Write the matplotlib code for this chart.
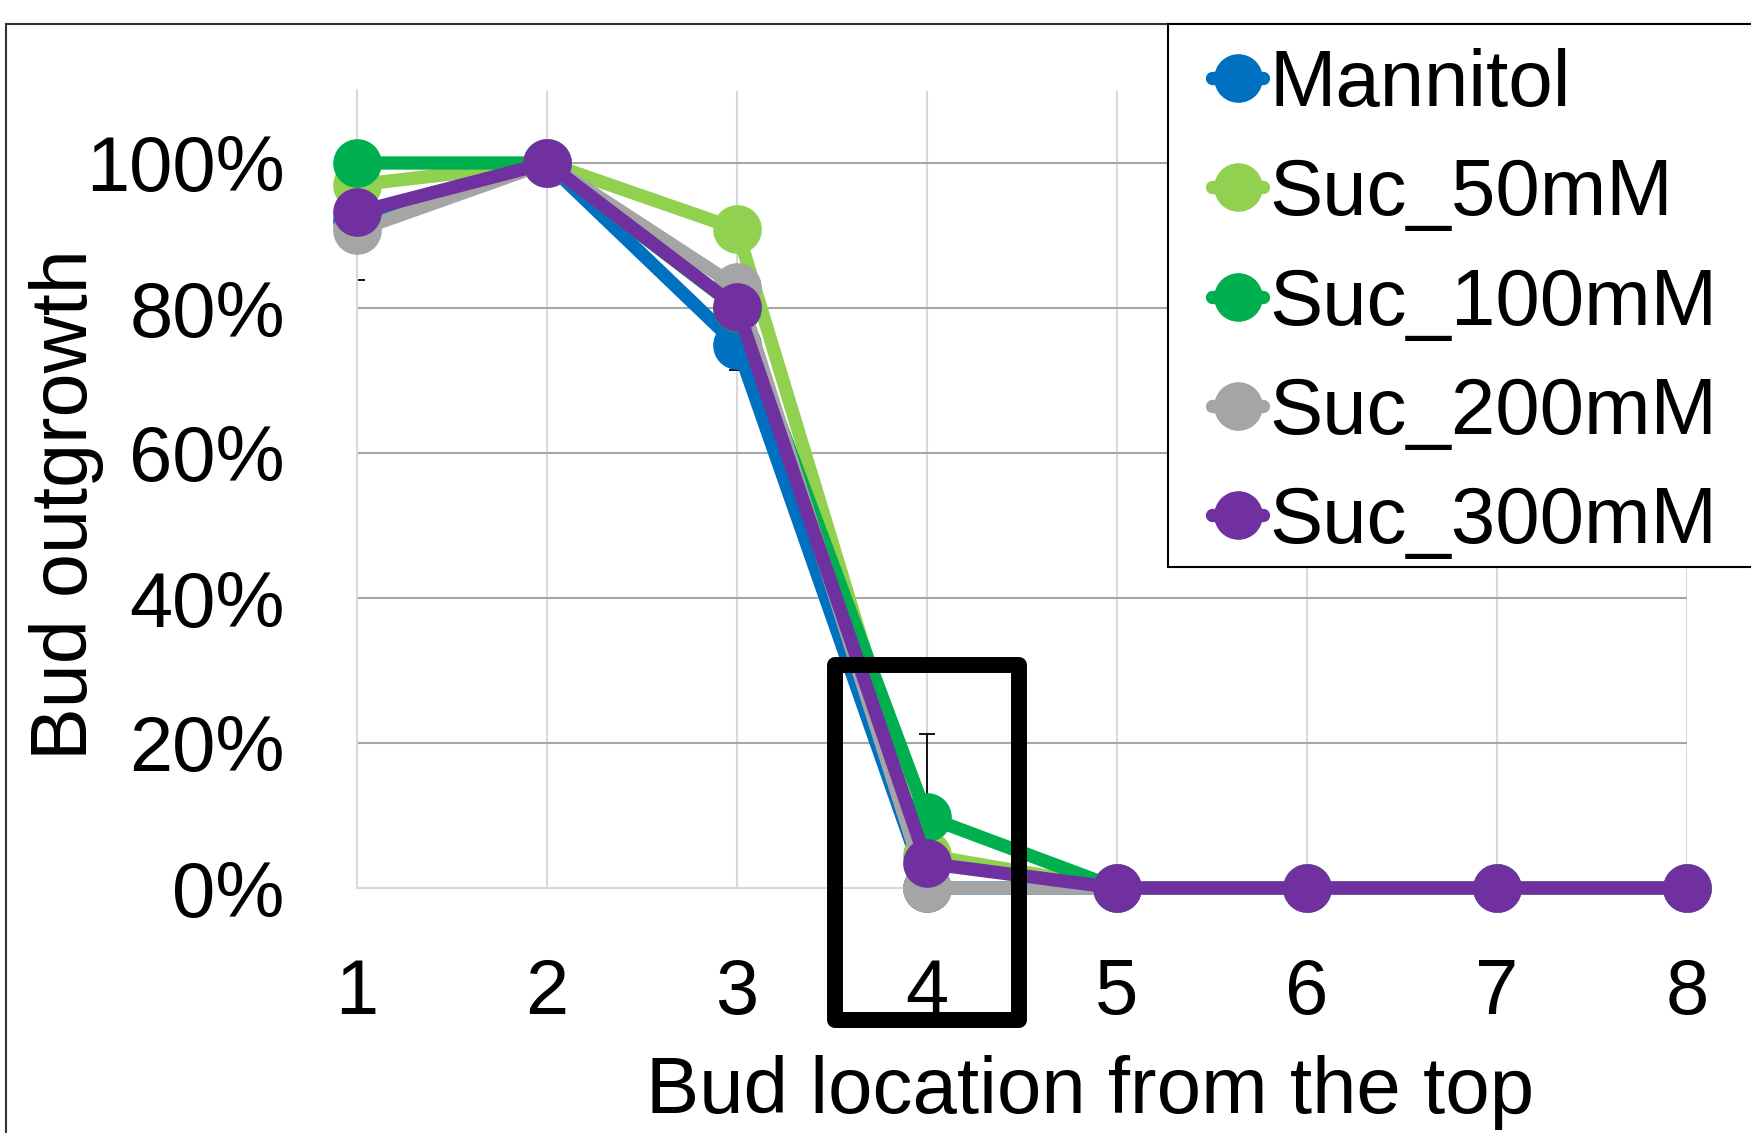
import numpy as np
import matplotlib
matplotlib.use("Agg")
import matplotlib.pyplot as plt
from matplotlib.lines import Line2D
from matplotlib.patches import Rectangle
from matplotlib.ticker import PercentFormatter

plt.rcParams['font.family'] = ['Liberation Sans', 'DejaVu Sans']

# bud position counted from the top of the shoot
bud_location = [1, 2, 3, 4, 5, 6, 7, 8]

# share of buds growing out, per treatment
mannitol = [0.92, 1.00, 0.749, 0.0, 0.0, 0.0, 0.0, 0.0]
suc_50 = [0.970, 1.00, 0.909, 0.045, 0.0, 0.0, 0.0, 0.0]
suc_100 = [1.00, 1.00, 0.80, 0.098, 0.0, 0.0, 0.0, 0.0]
suc_200 = [0.907, 1.00, 0.829, 0.0, 0.0, 0.0, 0.0, 0.0]
suc_300 = [0.932, 1.00, 0.801, 0.034, 0.0, 0.0, 0.0, 0.0]

# error bars (only the ones that show up in the figure)
mannitol_err = [0, 0, 0.035, 0, 0, 0, 0, 0]
suc_100_err = [0, 0, 0, 0.114, 0, 0, 0, 0]
suc_200_err = [0.068, 0, 0, 0, 0, 0, 0, 0]

series = [
    ("Mannitol", mannitol, mannitol_err, "#0070C0"),
    ("Suc_50mM", suc_50, None, "#92D050"),
    ("Suc_100mM", suc_100, suc_100_err, "#00B050"),
    ("Suc_200mM", suc_200, suc_200_err, "#A5A5A5"),
    ("Suc_300mM", suc_300, None, "#7030A0"),
]

# highlighted bud (black box), in data units
box_x = (3.516, 4.484)
box_y = (-0.182, 0.3076)

W, H = 1751, 1133
fig = plt.figure(figsize=(W / 100, H / 100), dpi=100)
ax = fig.add_axes([357 / W, 245 / H, 1330 / W, 797.5 / H])

FS = 56
for i, (name, vals, err, col) in enumerate(series):
    if err is not None:
        ax.errorbar(bud_location, vals, yerr=err, fmt='none', ecolor='black',
                    elinewidth=1.3, capsize=6, capthick=1.3, zorder=2)
    ax.plot(bud_location, vals, color=col, lw=9.6, marker='o', ms=34,
            label=name, zorder=2.5 + i, solid_joinstyle='round',
            solid_capstyle='round', clip_on=False)

ax.set_xlim(1, 8)
ax.set_ylim(0, 1.1)
ax.set_xticks(bud_location)
ax.set_yticks(np.arange(0, 1.01, 0.2))
ax.yaxis.set_major_formatter(PercentFormatter(1.0, decimals=0))
ax.tick_params(length=0, labelsize=FS)
ax.tick_params(axis='y', pad=52)
ax.tick_params(axis='x', pad=50)

ax.grid(axis='y', color='#A6A6A6', lw=1.5)
ax.grid(axis='x', color='#D9D9D9', lw=1.5)
ax.set_axisbelow(True)
for s in ['top', 'right']:
    ax.spines[s].set_visible(False)
for s in ['left', 'bottom']:
    ax.spines[s].set_color('#D9D9D9')
    ax.spines[s].set_linewidth(1.5)

ax.add_patch(Rectangle((box_x[0], box_y[0]), box_x[1] - box_x[0], box_y[1] - box_y[0],
                       fill=False, ec='black', lw=11.5, joinstyle='round',
                       clip_on=False, zorder=20))

fig.text(67 / W, 1 - 505 / H, "Bud outgrowth", rotation=90, fontsize=57,
         ha='center', va='center')
fig.text(1090 / W, 1 - 1113 / H, "Bud location from the top", fontsize=57.5,
         ha='center', va='baseline')

# outer chart border and legend box (white filled, hides the grid)
fx = 6 / W
fy = 1 - 24 / H
fig.add_artist(Line2D([fx, fx], [0, fy], color='#333333', lw=1.5))
fig.add_artist(Line2D([fx, 1], [fy, fy], color='#333333', lw=1.5))
lx = 1168 / W
ly = 1 - 567 / H
fig.add_artist(Rectangle((lx, ly), 1 - lx + 0.01, fy - ly, transform=fig.transFigure,
                         facecolor='white', edgecolor='black', lw=1.5, zorder=4))

leg = fig.legend(loc='upper left', bbox_to_anchor=(1212 / W, 1 - 48 / H),
                 frameon=False, fontsize=57.5, handlelength=0.64,
                 handletextpad=0.08, labelspacing=0.43, borderpad=0,
                 borderaxespad=0)
leg.set_zorder(6)

fig.savefig("out.png", dpi=100)
